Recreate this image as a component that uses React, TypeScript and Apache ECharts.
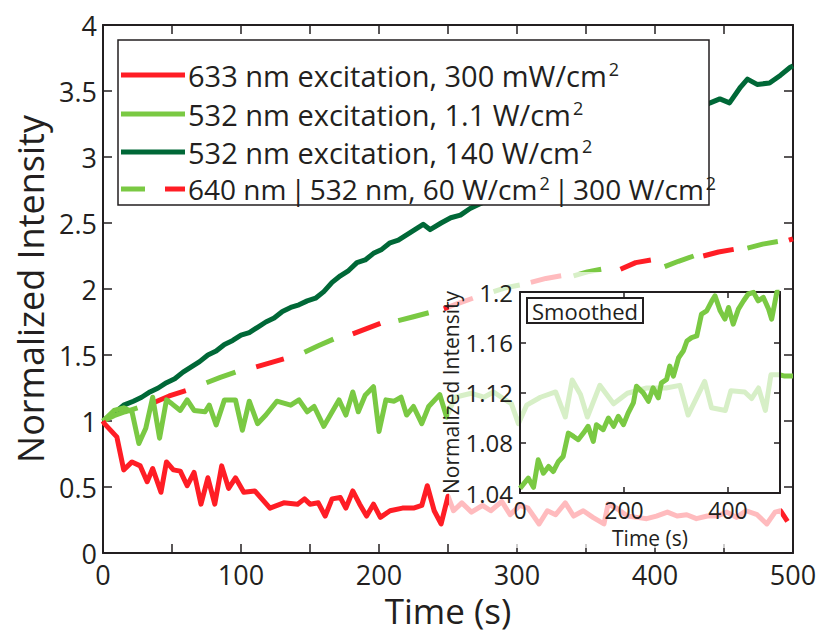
import React, { useEffect, useRef } from 'react';
import * as echarts from 'echarts';

const FONT = '"Open Sans", "Noto Sans", sans-serif';
const INK = '#231f20';
const RED = '#ff1d25';
const LIGHT_GREEN = '#7ac943';
const DARK_GREEN = '#006837';
const GAP: [number, string] = [0, '-'];

// 633 nm excitation, 300 mW/cm2 : [time s, normalized intensity]
const red633: [number, number][] = [
  [0, 1.0], [1, 0.98], [10, 0.88], [15, 0.63], [21, 0.69], [27, 0.66], [32, 0.54], [36, 0.64],
  [42, 0.46], [46, 0.69], [51, 0.63], [56, 0.62], [61, 0.51], [66, 0.61], [71, 0.37], [76, 0.57],
  [81, 0.37], [86, 0.66], [91, 0.49], [96, 0.57], [102, 0.46], [110, 0.47], [121, 0.34], [131, 0.38],
  [141, 0.37], [146, 0.41], [150, 0.37], [156, 0.38], [161, 0.28], [166, 0.41], [172, 0.42], [176, 0.34],
  [181, 0.47], [186, 0.37], [191, 0.28], [196, 0.37], [201, 0.27], [208, 0.32], [217, 0.34], [225, 0.34],
  [231, 0.36], [235, 0.51], [240, 0.32], [245, 0.22], [250, 0.43], [254, 0.32], [260, 0.38], [267, 0.31],
  [275, 0.36], [281, 0.32], [289, 0.39], [295, 0.29], [302, 0.36], [308, 0.34], [316, 0.22], [322, 0.32],
  [328, 0.29], [335, 0.38], [341, 0.28], [348, 0.32], [355, 0.27], [363, 0.22], [366, 0.37], [372, 0.34],
  [380, 0.28], [387, 0.27], [394, 0.26], [401, 0.28], [409, 0.31], [416, 0.28], [423, 0.29], [430, 0.26],
  [438, 0.28], [445, 0.28], [452, 0.31], [459, 0.27], [466, 0.32], [474, 0.29], [481, 0.22], [487, 0.31],
  [491, 0.32], [496, 0.24],
];

// 532 nm excitation, 1.1 W/cm2
const green532Low: [number, number][] = [
  [0, 1.0], [8, 1.08], [15, 1.1], [21, 1.07], [26, 0.83], [31, 0.945], [36, 1.18], [41, 0.87],
  [46, 1.16], [50, 1.13], [56, 1.08], [61, 1.16], [66, 1.08], [74, 1.07], [77, 1.12], [82, 0.97],
  [88, 1.16], [96, 1.16], [101, 0.93], [106, 1.15], [112, 0.98], [118, 1.045], [126, 1.15], [136, 1.12],
  [142, 1.16], [148, 1.07], [153, 1.11], [160, 0.96], [171, 1.16], [176, 1.045], [181, 1.22], [185, 1.07],
  [190, 1.195], [196, 1.26], [200, 0.92], [205, 1.16], [211, 1.15], [216, 1.18], [220, 1.045], [225, 1.11],
  [231, 0.98], [236, 1.11], [244, 1.2], [249, 1.03], [255, 1.18], [267, 1.21], [276, 1.18], [283, 1.22],
  [290, 1.17], [296, 1.13], [301, 0.98], [307, 1.12], [317, 1.18], [328, 1.22], [335, 1.03], [340, 1.31],
  [346, 1.2], [351, 1.03], [360, 1.27], [370, 1.13], [380, 1.21], [394, 1.25], [408, 1.25], [418, 1.27],
  [424, 1.045], [436, 1.3], [441, 1.1], [451, 1.08], [455, 1.23], [465, 1.22], [470, 1.17], [475, 1.25],
  [480, 1.08], [484, 1.35], [490, 1.35], [494, 1.34], [500, 1.34],
];

// 532 nm excitation, 140 W/cm2
const green532High: [number, number][] = [
  [0, 1.0], [8, 1.06], [15, 1.12], [22, 1.15], [28, 1.18], [34, 1.22], [40, 1.25], [46, 1.29],
  [52, 1.32], [58, 1.37], [64, 1.41], [70, 1.45], [76, 1.5], [82, 1.53], [88, 1.58], [94, 1.61],
  [100, 1.65], [106, 1.67], [112, 1.71], [118, 1.75], [124, 1.78], [130, 1.83], [136, 1.86], [142, 1.88],
  [148, 1.91], [154, 1.93], [160, 1.98], [166, 2.05], [172, 2.1], [178, 2.14], [184, 2.2], [190, 2.22],
  [196, 2.27], [202, 2.3], [208, 2.35], [214, 2.37], [220, 2.41], [226, 2.45], [232, 2.49], [237, 2.45],
  [245, 2.5], [252, 2.54], [259, 2.56], [266, 2.61], [274, 2.65], [290, 2.74], [310, 2.83], [330, 2.93],
  [350, 3.02], [370, 3.1], [390, 3.18], [410, 3.27], [425, 3.33], [440, 3.41], [447, 3.44], [454, 3.41],
  [462, 3.53], [467, 3.59], [474, 3.55], [483, 3.56], [491, 3.62], [498, 3.68], [500, 3.69],
];

// alternating 532 nm (60 W/cm2) segments
const altGreen: ([number, number] | [number, string])[] = [
  [0, 1.0], [8, 1.04], [16, 1.07], [25, 1.1], GAP,
  [75, 1.29], [85, 1.33], [96, 1.37], GAP,
  [146, 1.52], [156, 1.57], [167, 1.62], GAP,
  [214, 1.76], [225, 1.79], [236, 1.82], GAP,
  [283, 1.98], [292, 2.01], [302, 2.03], GAP,
  [341, 2.1], [351, 2.13], [361, 2.15], GAP,
  [407, 2.17], [417, 2.21], [428, 2.25], GAP,
  [467, 2.31], [478, 2.34], [489, 2.36],
];

// alternating 640 nm (300 W/cm2) segments
const altRed: ([number, number] | [number, string])[] = [
  [37, 1.14], [48, 1.19], [60, 1.23], GAP,
  [111, 1.41], [121, 1.44], [131, 1.47], GAP,
  [181, 1.66], [191, 1.7], [201, 1.74], GAP,
  [247, 1.85], [257, 1.89], [268, 1.93], GAP,
  [310, 2.05], [321, 2.08], [332, 2.1], GAP,
  [375, 2.15], [386, 2.2], [397, 2.22], GAP,
  [435, 2.25], [446, 2.28], [457, 2.3], GAP,
  [497, 2.37], [500, 2.38],
];

// inset: smoothed 532 nm, 1.1 W/cm2
const smoothed: [number, number][] = [
  [0, 1.0437], [16, 1.0518], [26, 1.0445], [35, 1.0664], [45, 1.0557], [55, 1.0611], [64, 1.0571],
  [74, 1.0651], [83, 1.0691], [93, 1.0877], [103, 1.085], [112, 1.0824], [122, 1.0877], [131, 1.0931],
  [141, 1.0811], [147, 1.0944], [160, 1.0904], [170, 1.0997], [180, 1.0931], [189, 1.1011], [199, 1.0944],
  [208, 1.1037], [218, 1.1117], [224, 1.125], [237, 1.1197], [247, 1.113], [256, 1.1237], [266, 1.1157],
  [272, 1.1277], [282, 1.1304], [288, 1.141], [295, 1.133], [305, 1.1477], [314, 1.153], [321, 1.161],
  [330, 1.1637], [340, 1.165], [349, 1.1824], [359, 1.185], [369, 1.193], [375, 1.197], [385, 1.185],
  [394, 1.1784], [401, 1.1877], [410, 1.1744], [420, 1.1864], [430, 1.193], [439, 1.1984], [449, 1.1997],
  [458, 1.193], [468, 1.1957], [478, 1.1864], [484, 1.1784], [494, 1.2], [499, 1.2],
];

const legendRows = [
  { color: RED, text: '{a|633 nm excitation, 300 mW/cm}{s|2}' },
  { color: LIGHT_GREEN, text: '{a|532 nm excitation, 1.1 W/cm}{s|2}' },
  { color: DARK_GREEN, text: '{a|532 nm excitation, 140 W/cm}{s|2}' },
  { color: '', text: '{c|640 nm}{b||}{c|532 nm, 60 W/cm}{s|2}{b||}{c|300 W/cm}{s|2}' },
];

function mainLine(name: string, data: any[], color: string, z = 2) {
  return {
    name,
    type: 'line',
    xAxisIndex: 0,
    yAxisIndex: 0,
    data,
    showSymbol: false,
    symbol: 'none',
    connectNulls: false,
    z,
    lineStyle: { color, width: 5, join: 'round' },
  };
}

export default function App() {
  const ref = useRef<HTMLDivElement>(null);
  useEffect(() => {
    const chart = echarts.init(ref.current!, null, { renderer: 'svg' });
    const axisLine = { show: true, onZero: false, lineStyle: { color: INK, width: 2 } };
    const tickStyle = { color: INK, width: 1.5 };
    const rich = {
      a: { fontSize: 29, fontFamily: FONT, fill: INK, color: INK, lineHeight: 30 },
      c: { fontSize: 28, fontFamily: FONT, fill: INK, color: INK, lineHeight: 30 },
      s: { fontSize: 18, fontFamily: FONT, fill: INK, color: INK, lineHeight: 16, verticalAlign: 'top', padding: [0, 0, 0, 2] },
      b: { fontSize: 28, fontFamily: FONT, fill: INK, color: INK, lineHeight: 30, padding: [0, 4, 0, 4] },
    };
    const legendEls: any[] = [
      {
        type: 'rect',
        shape: { x: 118, y: 40, width: 591, height: 165 },
        style: { fill: '#fff', stroke: INK, lineWidth: 1.5 },
        z: 200,
      },
    ];
    const rowY = [75, 114, 152, 189];
    legendRows.forEach((row, i) => {
      if (row.color) {
        legendEls.push({
          type: 'line',
          shape: { x1: 121, y1: rowY[i], x2: 185, y2: rowY[i] },
          style: { stroke: row.color, lineWidth: 5 },
          z: 201,
        });
      } else {
        legendEls.push({
          type: 'line',
          shape: { x1: 121, y1: rowY[i], x2: 145, y2: rowY[i] },
          style: { stroke: LIGHT_GREEN, lineWidth: 5 },
          z: 201,
        });
        legendEls.push({
          type: 'line',
          shape: { x1: 165, y1: rowY[i], x2: 185, y2: rowY[i] },
          style: { stroke: RED, lineWidth: 5 },
          z: 201,
        });
      }
      legendEls.push({
        type: 'text',
        x: 188,
        y: rowY[i],
        z: 202,
        style: { text: row.text, rich, align: 'left', verticalAlign: 'middle', fill: INK },
      });
    });

    chart.setOption({
      animation: false,
      backgroundColor: '#fff',
      textStyle: { fontFamily: FONT },
      grid: [
        { left: 103, right: 27, top: 25, bottom: 75 },
        { left: 520, right: 40, top: 292, bottom: 140 },
      ],
      xAxis: [
        {
          gridIndex: 0, type: 'value', position: 'bottom', min: 0, max: 500, interval: 50,
          axisLine, axisTick: { show: true, inside: true, length: 9, lineStyle: tickStyle },
          splitLine: { show: false },
          axisLabel: {
            color: INK, fontSize: 27, fontFamily: FONT, margin: 8,
            formatter: (v: number) => (v % 100 === 0 ? String(v) : ''),
          },
          name: 'Time (s)', nameLocation: 'middle', nameGap: 40,
          nameTextStyle: { color: INK, fontSize: 35, fontFamily: FONT },
        },
        {
          gridIndex: 0, type: 'value', position: 'top', min: 0, max: 500, interval: 50,
          axisLine, axisTick: { show: true, inside: true, length: 9, lineStyle: tickStyle },
          splitLine: { show: false }, axisLabel: { show: false },
        },
        {
          gridIndex: 1, type: 'value', position: 'bottom', min: 0, max: 500, interval: 200, z: 100,
          axisLine, axisTick: { show: true, inside: true, length: 6, lineStyle: tickStyle },
          splitLine: { show: false },
          axisLabel: { color: INK, fontSize: 23, fontFamily: FONT, margin: 5, showMaxLabel: false },
          name: 'Time (s)', nameLocation: 'middle', nameGap: 34,
          nameTextStyle: { color: INK, fontSize: 21, fontFamily: FONT },
        },
        {
          gridIndex: 1, type: 'value', position: 'top', min: 0, max: 500, interval: 200, z: 100,
          axisLine, axisTick: { show: true, inside: true, length: 6, lineStyle: tickStyle },
          splitLine: { show: false }, axisLabel: { show: false },
        },
      ],
      yAxis: [
        {
          gridIndex: 0, type: 'value', position: 'left', min: 0, max: 4, interval: 0.5,
          axisLine, axisTick: { show: true, inside: true, length: 9, lineStyle: tickStyle },
          splitLine: { show: false },
          axisLabel: { color: INK, fontSize: 27, fontFamily: FONT, margin: 6 },
          name: 'Normalized Intensity', nameLocation: 'middle', nameGap: 49,
          nameTextStyle: { color: INK, fontSize: 36, fontFamily: FONT },
        },
        {
          gridIndex: 0, type: 'value', position: 'right', min: 0, max: 4, interval: 0.5,
          axisLine, axisTick: { show: true, inside: true, length: 9, lineStyle: tickStyle },
          splitLine: { show: false }, axisLabel: { show: false },
        },
        {
          gridIndex: 1, type: 'value', position: 'left', min: 1.04, max: 1.2, interval: 0.04, z: 100,
          axisLine, axisTick: { show: true, inside: true, length: 6, lineStyle: tickStyle },
          splitLine: { show: false },
          axisLabel: { color: INK, fontSize: 24, fontFamily: FONT, margin: 7 },
          name: 'Normalized Intensity', nameLocation: 'middle', nameGap: 50,
          nameTextStyle: { color: INK, fontSize: 21, fontFamily: FONT },
        },
        {
          gridIndex: 1, type: 'value', position: 'right', min: 1.04, max: 1.2, interval: 0.04, z: 100,
          axisLine, axisTick: { show: true, inside: true, length: 6, lineStyle: tickStyle },
          splitLine: { show: false }, axisLabel: { show: false },
        },
      ],
      series: [
        mainLine('532 nm excitation, 140 W/cm2', green532High, DARK_GREEN),
        mainLine('640 nm', altRed, RED, 3),
        mainLine('532 nm, 60 W/cm2', altGreen, LIGHT_GREEN, 3),
        mainLine('532 nm excitation, 1.1 W/cm2', green532Low, LIGHT_GREEN, 4),
        mainLine('633 nm excitation, 300 mW/cm2', red633, RED, 4),
        {
          name: 'Smoothed',
          type: 'line',
          xAxisIndex: 2,
          yAxisIndex: 2,
          data: smoothed,
          symbol: 'none',
          showSymbol: false,
          z: 100,
          lineStyle: { color: LIGHT_GREEN, width: 5, join: 'round' },
        },
      ],
      graphic: [
        {
          type: 'rect',
          shape: { x: 449, y: 272, width: 332, height: 276 },
          style: { fill: 'rgba(255,255,255,0.7)' },
          z: 50,
          silent: true,
        },
        {
          type: 'rect',
          shape: { x: 527, y: 298, width: 116, height: 25 },
          style: { fill: '#fff', stroke: INK, lineWidth: 2 },
          z: 150,
        },
        {
          type: 'text',
          x: 585,
          y: 311,
          z: 151,
          style: {
            text: 'Smoothed', fontSize: 22, fontFamily: FONT, fill: INK,
            align: 'center', verticalAlign: 'middle',
          },
        },
        ...legendEls,
      ],
    });
    return () => chart.dispose();
  }, []);
  return (
    <div
      ref={ref}
      style={{ position: 'fixed', left: 0, top: 0, width: 820, height: 633, background: '#fff' }}
    />
  );
}
